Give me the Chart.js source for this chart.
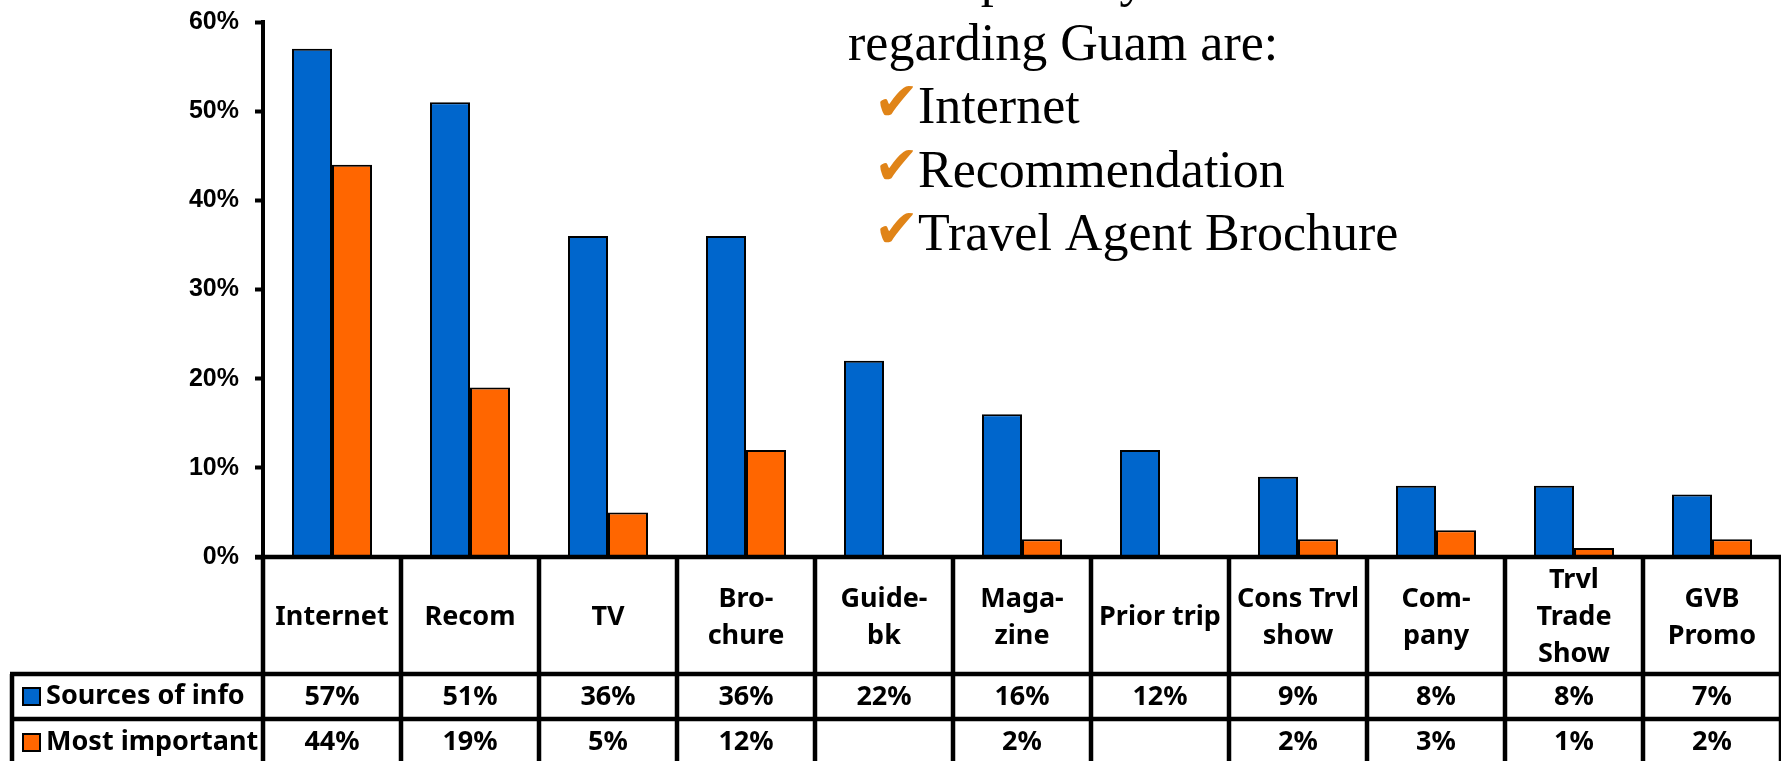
<!DOCTYPE html>
<html>
<head>
<meta charset="utf-8">
<script src="https://cdn.jsdelivr.net/npm/chart.js@4.4.1/dist/chart.umd.min.js"></script>
<style>
  html, body { margin: 0; padding: 0; background: #fff; }
  #wrap { position: relative; width: 1781px; height: 761px; }
</style>
</head>
<body>
<div id="wrap"><canvas id="infoChart"></canvas></div>
<script>
// categories (table header cells, one entry per line)
const categories = [
    ['Internet'], ['Recom'], ['TV'], ['Bro-', 'chure'], ['Guide-', 'bk'],
    ['Maga-', 'zine'], ['Prior trip'], ['Cons Trvl', 'show'], ['Com-', 'pany'],
    ['Trvl', 'Trade', 'Show'], ['GVB', 'Promo']
];
const sourcesOfInfo = [57, 51, 36, 36, 22, 16, 12, 9, 8, 8, 7];
const mostImportant = [44, 19, 5, 12, null, 2, null, 2, 3, 1, 2];
const seriesNames = ['Sources of info', 'Most important'];
const seriesColors = ['#0066CC', '#FF6600'];

const headingLines = ['The 3 primary sources of information', 'regarding Guam are:'];
const checkItems = ['Internet', 'Recommendation', 'Travel Agent Brochure'];

const tableFont = 'bold 27px "Noto Sans", "Open Sans", sans-serif';
const TABLE_H = 204;

// data table under the x axis, columns follow the category scale
const tablePlugin = {
    id: 'dataTable',
    afterDraw(chart) {
        const ctx = chart.ctx;
        const x = chart.scales.x;
        const area = chart.chartArea;
        const n = categories.length;
        const colW = x.width / n;
        const top = area.bottom;
        const row1 = top + 117;
        const row2 = row1 + 45;
        const bottom = chart.height + 2;
        const left = 12;

        ctx.save();
        ctx.strokeStyle = '#000';
        ctx.lineWidth = 4.5;
        ctx.beginPath();
        // base line and row separators
        ctx.moveTo(area.left - 8, top); ctx.lineTo(area.right, top);
        ctx.moveTo(left - 2, row1); ctx.lineTo(area.right, row1);
        ctx.moveTo(left - 2, row2); ctx.lineTo(area.right, row2);
        // legend column edge
        ctx.moveTo(left, row1); ctx.lineTo(left, bottom);
        // column separators
        for (let i = 0; i <= n; i++) {
            const cx = x.left + colW * i;
            ctx.moveTo(cx, top); ctx.lineTo(cx, bottom);
        }
        ctx.stroke();

        ctx.fillStyle = '#000';
        ctx.font = tableFont;
        ctx.textAlign = 'center';
        ctx.textBaseline = 'middle';
        const headMid = (top + row1) / 2 + 2;
        categories.forEach((lines, i) => {
            const cx = x.getPixelForValue(i);
            const lh = 37;
            const y0 = headMid - (lines.length - 1) * lh / 2;
            lines.forEach((t, k) => ctx.fillText(t, cx, y0 + k * lh));
            const v1 = sourcesOfInfo[i];
            const v2 = mostImportant[i];
            if (v1 != null) ctx.fillText(v1 + '%', cx, (row1 + row2) / 2 + 1);
            if (v2 != null) ctx.fillText(v2 + '%', cx, row2 + 23);
        });

        // row legends
        ctx.textAlign = 'left';
        [row1 + 22, row2 + 23].forEach((cy, k) => {
            ctx.fillStyle = seriesColors[k];
            ctx.fillRect(23, cy - 8, 17, 17);
            ctx.lineWidth = 2;
            ctx.strokeStyle = '#000';
            ctx.strokeRect(23, cy - 8, 17, 17);
            ctx.fillStyle = '#000';
            ctx.fillText(seriesNames[k], 46, cy);
        });
        ctx.restore();
    }
};

// heading text with the check list
const headingPlugin = {
    id: 'heading',
    afterDraw(chart) {
        const ctx = chart.ctx;
        ctx.save();
        ctx.textBaseline = 'alphabetic';
        ctx.textAlign = 'left';
        ctx.fillStyle = '#000';
        ctx.font = '52px "Liberation Serif", "Times New Roman", serif';
        ctx.fillText(headingLines[0], 848, -4);
        ctx.fillText(headingLines[1], 848, 60);
        checkItems.forEach((t, k) => {
            const base = 123 + k * 63.7;
            ctx.fillStyle = '#000';
            ctx.font = '52px "Liberation Serif", "Times New Roman", serif';
            ctx.fillText(t, 918, base);
            ctx.fillStyle = '#E08418';
            ctx.font = '54px "DejaVu Sans", sans-serif';
            ctx.fillText('\u2714', 874, base - 3);
        });
        ctx.restore();
    }
};

new Chart(document.getElementById('infoChart').getContext('2d'), {
    type: 'bar',
    data: {
        labels: categories,
        datasets: [
            {
                label: seriesNames[0],
                data: sourcesOfInfo,
                backgroundColor: seriesColors[0],
                borderColor: '#000',
                borderWidth: 2,
            },
            {
                label: seriesNames[1],
                data: mostImportant,
                backgroundColor: seriesColors[1],
                borderColor: '#000',
                borderWidth: 2,
            },
        ],
    },
    options: {
        responsive: true,
        maintainAspectRatio: false,
        animation: false,
        devicePixelRatio: 1,
        layout: { padding: { top: 22, right: 0, left: 0, bottom: 0 } },
        datasets: { bar: { categoryPercentage: 0.58, barPercentage: 1.0 } },
        plugins: {
            legend: { display: false },
            tooltip: { enabled: false },
        },
        scales: {
            x: {
                grid: { display: false },
                border: { display: false },
                ticks: { display: false },
                afterFit(scale) { scale.height = TABLE_H; },
            },
            y: {
                min: 0,
                max: 60,
                ticks: {
                    stepSize: 10,
                    padding: 16,
                    color: '#000',
                    font: { family: '"Liberation Sans", Arial, sans-serif', size: 25, weight: 'bold' },
                    callback: v => v + '%',
                },
                grid: {
                    drawOnChartArea: false,
                    tickLength: 8,
                    tickWidth: 4,
                    tickColor: '#000',
                    color: '#000',
                },
                border: { display: true, color: '#000', width: 4 },
                afterFit(scale) {
                    scale.width = 263;
                    scale.paddingTop = 0;
                    scale.paddingBottom = 0;
                },
            },
        },
    },
    plugins: [tablePlugin, headingPlugin],
});
</script>
</body>
</html>
